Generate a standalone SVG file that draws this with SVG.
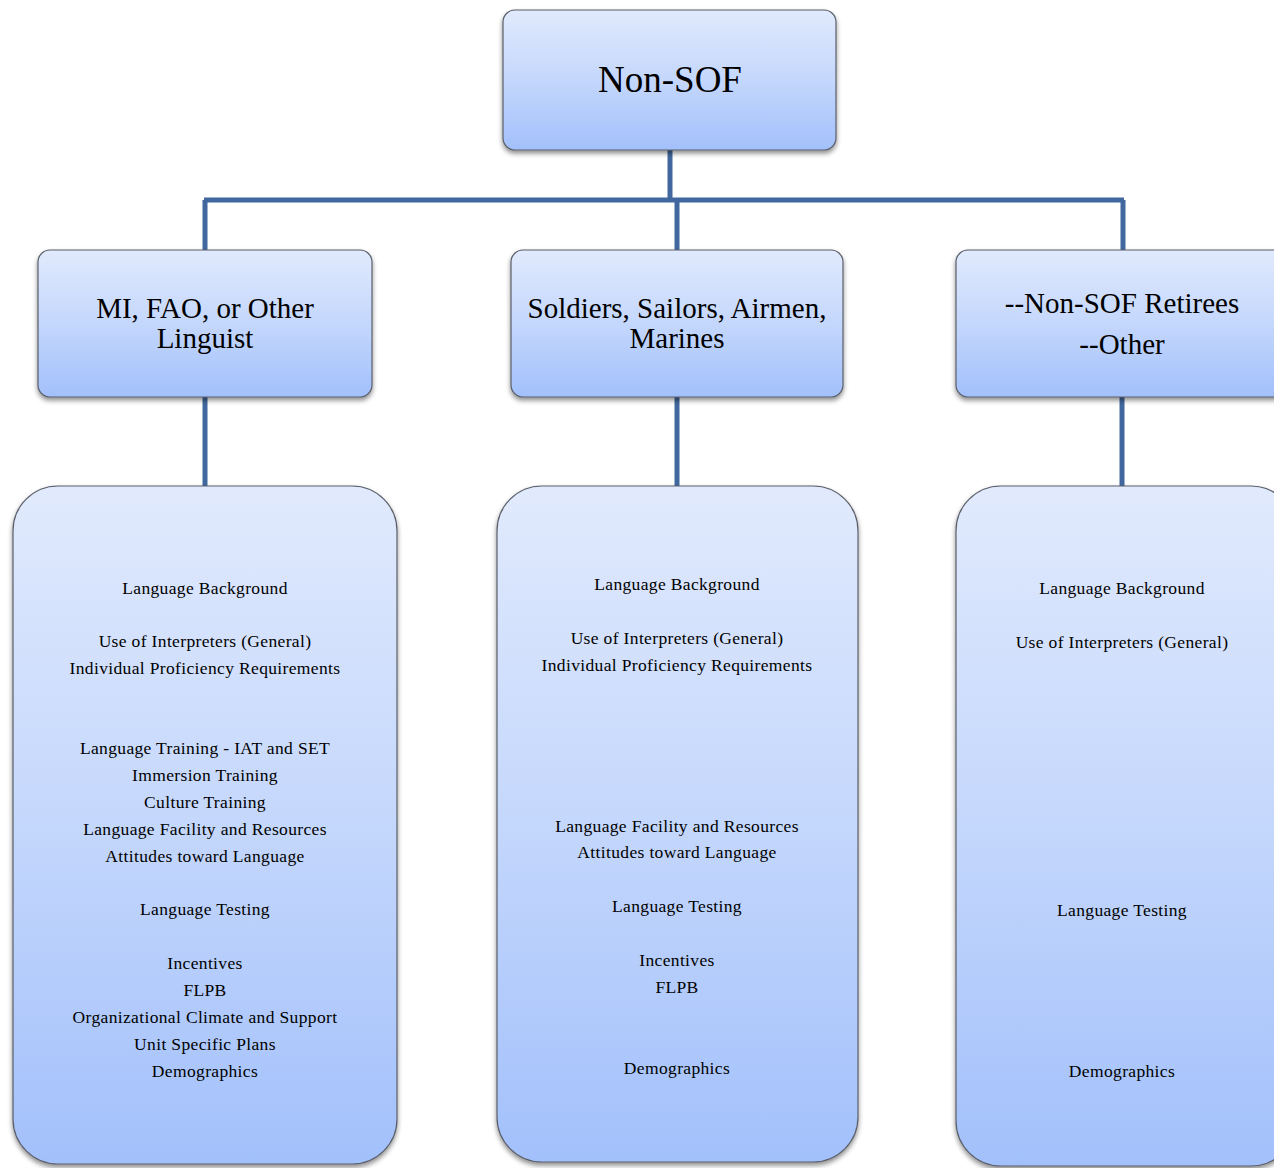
<svg xmlns="http://www.w3.org/2000/svg" width="1274" height="1168" viewBox="0 0 1274 1168">
<defs>
<linearGradient id="g" x1="0" y1="0" x2="0" y2="1">
<stop offset="0" stop-color="#e1eafd"/>
<stop offset="0.5" stop-color="#c4d7fc"/>
<stop offset="1" stop-color="#a2c0fb"/>
</linearGradient>
<filter id="sh" x="-10%" y="-10%" width="120%" height="120%">
<feGaussianBlur in="SourceAlpha" stdDeviation="2.5"/>
<feOffset dx="0" dy="3" result="b"/>
<feComponentTransfer><feFuncA type="linear" slope="0.45"/></feComponentTransfer>
<feMerge><feMergeNode/><feMergeNode in="SourceGraphic"/></feMerge>
</filter>
<style>
.box{fill:url(#g);stroke:#5a5f6a;stroke-width:1.2;filter:url(#sh)}
.t{font-family:"Liberation Serif","Times New Roman",serif;fill:#000;text-anchor:middle}
.big{font-size:37px}
.mid{font-size:29px}
.sm{font-size:17.5px;letter-spacing:0.35px}
.c{stroke:#41689e;stroke-width:5;fill:none}
</style>
</defs>
<rect width="1274" height="1168" fill="#fff"/>
<g id="connectors">
<path class="c" d="M670 150 V200 M204 200 H1124 M205 200 V250 M677 200 V250 M1123 200 V250"/>
<path class="c" d="M205 397 V486 M677 397 V486 M1122 397 V486"/>
</g>
<g id="root">
<rect class="box" x="503" y="10" width="333" height="140" rx="12"/>
<text class="t big" x="670" y="92">Non-SOF</text>
</g>
<g id="mi">
<rect class="box" x="38" y="250" width="334" height="147" rx="12"/>
<text class="t mid" x="205" y="318">MI, FAO, or Other</text>
<text class="t mid" x="205" y="348">Linguist</text>
</g>
<g id="soldiers">
<rect class="box" x="511" y="250" width="332" height="147" rx="12"/>
<text class="t mid" x="677" y="318">Soldiers, Sailors, Airmen,</text>
<text class="t mid" x="677" y="348">Marines</text>
</g>
<g id="retirees">
<rect class="box" x="956" y="250" width="330" height="147" rx="12"/>
<text class="t mid" x="1122" y="313">--Non-SOF Retirees</text>
<text class="t mid" x="1122" y="354">--Other</text>
</g>
<g id="mi-list">
<rect class="box" x="13" y="486" width="384" height="678" rx="45"/>
<text class="t sm" x="205" y="594">Language Background</text>
<text class="t sm" x="205" y="647">Use of Interpreters (General)</text>
<text class="t sm" x="205" y="674">Individual Proficiency Requirements</text>
<text class="t sm" x="205" y="754">Language Training - IAT and SET</text>
<text class="t sm" x="205" y="781">Immersion Training</text>
<text class="t sm" x="205" y="808">Culture Training</text>
<text class="t sm" x="205" y="835">Language Facility and Resources</text>
<text class="t sm" x="205" y="862">Attitudes toward Language</text>
<text class="t sm" x="205" y="915">Language Testing</text>
<text class="t sm" x="205" y="969">Incentives</text>
<text class="t sm" x="205" y="996">FLPB</text>
<text class="t sm" x="205" y="1023">Organizational Climate and Support</text>
<text class="t sm" x="205" y="1050">Unit Specific Plans</text>
<text class="t sm" x="205" y="1077">Demographics</text>
</g>
<g id="soldiers-list">
<rect class="box" x="497" y="486" width="361" height="676" rx="45"/>
<text class="t sm" x="677" y="590">Language Background</text>
<text class="t sm" x="677" y="644">Use of Interpreters (General)</text>
<text class="t sm" x="677" y="671">Individual Proficiency Requirements</text>
<text class="t sm" x="677" y="832">Language Facility and Resources</text>
<text class="t sm" x="677" y="858">Attitudes toward Language</text>
<text class="t sm" x="677" y="912">Language Testing</text>
<text class="t sm" x="677" y="966">Incentives</text>
<text class="t sm" x="677" y="993">FLPB</text>
<text class="t sm" x="677" y="1074">Demographics</text>
</g>
<g id="retirees-list">
<rect class="box" x="956" y="486" width="340" height="680" rx="45"/>
<text class="t sm" x="1122" y="594">Language Background</text>
<text class="t sm" x="1122" y="648">Use of Interpreters (General)</text>
<text class="t sm" x="1122" y="916">Language Testing</text>
<text class="t sm" x="1122" y="1077">Demographics</text>
</g>
</svg>
